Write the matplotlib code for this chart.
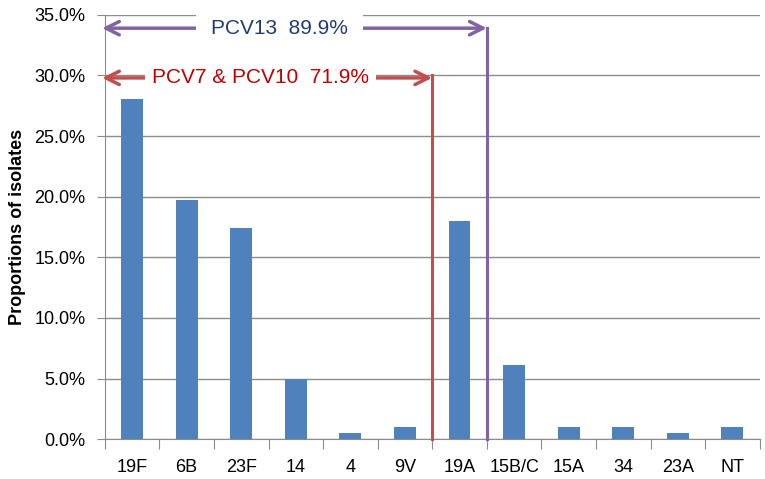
import matplotlib
matplotlib.use('Agg')
import matplotlib.pyplot as plt
from matplotlib.ticker import FuncFormatter

serotypes = ['19F', '6B', '23F', '14', '4', '9V', '19A', '15B/C', '15A', '34', '23A', 'NT']
proportions = [28.1, 19.7, 17.4, 5.0, 0.5, 1.0, 18.0, 6.1, 1.0, 1.0, 0.5, 1.0]

pcv7_label = 'PCV7 & PCV10  71.9%'
pcv13_label = 'PCV13  89.9%'

plt.rcParams['font.family'] = ['Liberation Sans', 'DejaVu Sans']

fig = plt.figure(figsize=(7.65, 4.79), dpi=100)
ax = fig.add_axes([0.137, 0.083, 0.856, 0.886])

x = list(range(len(serotypes)))
ax.bar(x, proportions, width=0.4, color='#4F81BD', zorder=2)

ax.set_xlim(-0.5, len(serotypes) - 0.5)
ax.set_ylim(0, 35)
ax.set_yticks(range(0, 36, 5))
ax.yaxis.set_major_formatter(FuncFormatter(lambda v, p: '%.1f%%' % v))
ax.grid(axis='y', color='#8C8C8C', linewidth=1, zorder=0)

# tick marks between categories, labels in the middle
ax.set_xticks([i - 0.5 for i in range(len(serotypes) + 1)])
ax.set_xticklabels([])
ax.set_xticks(x, minor=True)
ax.set_xticklabels(serotypes, minor=True)
ax.tick_params(axis='x', which='major', length=7, color='#8C8C8C')
ax.tick_params(axis='x', which='minor', length=0, pad=14, labelsize=13)
ax.tick_params(axis='y', length=6, color='#8C8C8C', pad=8, labelsize=13)

for side in ['top', 'right']:
    ax.spines[side].set_visible(False)
for side in ['left', 'bottom']:
    ax.spines[side].set_color('#8C8C8C')

ax.set_ylabel('Proportions of isolates', fontsize=13, fontweight='bold', labelpad=6)

red = '#C0504D'
purple = '#8064A2'

# vaccine coverage brackets
ax.plot([5.5, 5.5], [0, 30], color=red, linewidth=2.2, zorder=3, clip_on=False)
ax.plot([6.5, 6.5], [0, 33.9], color=purple, linewidth=2.2, zorder=3, clip_on=False)

ax.annotate('', xy=(-0.55, 29.8), xytext=(5.5, 29.8), annotation_clip=False,
            arrowprops=dict(arrowstyle='<->', color=red, lw=2.5, mutation_scale=24,
                            shrinkA=0, shrinkB=0), zorder=4)
ax.annotate('', xy=(-0.55, 33.9), xytext=(6.5, 33.9), annotation_clip=False,
            arrowprops=dict(arrowstyle='<->', color=purple, lw=2.5, mutation_scale=24,
                            shrinkA=0, shrinkB=0), zorder=4)

ax.text(2.35, 29.8, pcv7_label, color='#C00000', fontsize=15, ha='center', va='center',
        zorder=5, bbox=dict(facecolor='white', edgecolor='none', pad=5))
ax.text(2.7, 33.9, pcv13_label, color='#1F3B73', fontsize=15, ha='center', va='center',
        zorder=5, bbox=dict(facecolor='white', edgecolor='none', pad=11))

fig.savefig('out.png', dpi=100)
